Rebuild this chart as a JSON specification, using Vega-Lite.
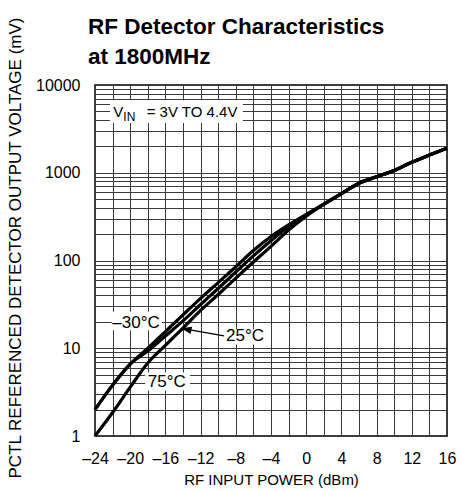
{
  "$schema": "https://vega.github.io/schema/vega-lite/v6.json",
  "width": 352,
  "height": 351,
  "autosize": "none",
  "padding": {"left": 95, "top": 85, "right": 16, "bottom": 55},
  "config": {
    "view": {"stroke": "black", "strokeWidth": 1.5},
    "font": "Liberation Sans",
    "text": {"font": "Liberation Sans", "color": "black"}
  },
  "title": {
    "text": ["RF Detector Characteristics", "at 1800MHz"],
    "anchor": "start",
    "frame": "group",
    "dx": -7,
    "offset": -75,
    "baseline": "bottom",
    "lineHeight": 30,
    "fontSize": 22.5,
    "font": "Liberation Sans",
    "fontWeight": "bold",
    "color": "black"
  },
  "resolve": {"axis": {"x": "independent"}},
  "datasets": {
    "curves": [
      {"p": -24, "v": 2.0, "t": "-30C"}, {"p": -22, "v": 3.8, "t": "-30C"}, {"p": -20, "v": 6.6, "t": "-30C"},
      {"p": -18, "v": 10, "t": "-30C"}, {"p": -16, "v": 15.5, "t": "-30C"}, {"p": -14, "v": 24, "t": "-30C"},
      {"p": -12, "v": 37, "t": "-30C"}, {"p": -10, "v": 56, "t": "-30C"}, {"p": -8, "v": 85, "t": "-30C"},
      {"p": -6, "v": 130, "t": "-30C"}, {"p": -4, "v": 188, "t": "-30C"}, {"p": -2, "v": 255, "t": "-30C"},
      {"p": 0, "v": 335, "t": "-30C"}, {"p": 2, "v": 440, "t": "-30C"}, {"p": 4, "v": 580, "t": "-30C"},
      {"p": 6, "v": 760, "t": "-30C"}, {"p": 8, "v": 900, "t": "-30C"}, {"p": 10, "v": 1060, "t": "-30C"},
      {"p": 12, "v": 1320, "t": "-30C"}, {"p": 14, "v": 1590, "t": "-30C"}, {"p": 16, "v": 1900, "t": "-30C"},
      {"p": -24, "v": 2.0, "t": "25C"}, {"p": -22, "v": 3.8, "t": "25C"}, {"p": -20, "v": 6.6, "t": "25C"},
      {"p": -18, "v": 9.3, "t": "25C"}, {"p": -16, "v": 13.8, "t": "25C"}, {"p": -14, "v": 20.5, "t": "25C"},
      {"p": -12, "v": 31.5, "t": "25C"}, {"p": -10, "v": 48, "t": "25C"}, {"p": -8, "v": 74, "t": "25C"},
      {"p": -6, "v": 113, "t": "25C"}, {"p": -4, "v": 168, "t": "25C"}, {"p": -2, "v": 245, "t": "25C"},
      {"p": 0, "v": 330, "t": "25C"}, {"p": 2, "v": 440, "t": "25C"}, {"p": 4, "v": 580, "t": "25C"},
      {"p": 6, "v": 760, "t": "25C"}, {"p": 8, "v": 900, "t": "25C"}, {"p": 10, "v": 1060, "t": "25C"},
      {"p": 12, "v": 1320, "t": "25C"}, {"p": 14, "v": 1590, "t": "25C"}, {"p": 16, "v": 1900, "t": "25C"},
      {"p": -24, "v": 1.0, "t": "75C"}, {"p": -22, "v": 1.85, "t": "75C"}, {"p": -20, "v": 3.6, "t": "75C"},
      {"p": -18, "v": 6.8, "t": "75C"}, {"p": -16, "v": 10.8, "t": "75C"}, {"p": -14, "v": 17, "t": "75C"},
      {"p": -12, "v": 27, "t": "75C"}, {"p": -10, "v": 41, "t": "75C"}, {"p": -8, "v": 63, "t": "75C"},
      {"p": -6, "v": 96, "t": "75C"}, {"p": -4, "v": 145, "t": "75C"}, {"p": -2, "v": 222, "t": "75C"},
      {"p": 0, "v": 320, "t": "75C"}, {"p": 2, "v": 435, "t": "75C"}, {"p": 4, "v": 575, "t": "75C"},
      {"p": 6, "v": 760, "t": "75C"}, {"p": 8, "v": 900, "t": "75C"}, {"p": 10, "v": 1060, "t": "75C"},
      {"p": 12, "v": 1320, "t": "75C"}, {"p": 14, "v": 1590, "t": "75C"}, {"p": 16, "v": 1900, "t": "75C"}
    ],
    "boxes": [
      {"x1": -22.3, "x2": -7.2, "y1": 3700, "y2": 6700},
      {"x1": -22.1, "x2": -16.4, "y1": 16, "y2": 26},
      {"x1": -9.6, "x2": -4.3, "y1": 11, "y2": 16.5},
      {"x1": -18.3, "x2": -13.2, "y1": 3.3, "y2": 5.3}
    ],
    "arrow": [
      {"p": -9.34, "v": 13.8},
      {"p": -14.0, "v": 16.7}
    ],
    "arrowhead": [
      {"p": -14.23, "v": 16.9}
    ],
    "labels": [
      {"p": -19.34, "v": 19.5, "t": "–30°C"},
      {"p": -6.95, "v": 13.7, "t": "25°C"},
      {"p": -15.85, "v": 4.16, "t": "75°C"}
    ],
    "vin": [
      {"p": -21.92, "v": 4354, "t": "V"},
      {"p": -18.13, "v": 4354, "t": "= 3V TO 4.4V"}
    ],
    "vinsub": [
      {"p": -20.78, "v": 3918, "t": "IN"}
    ]
  },
  "layer": [
    {
      "data": {"name": "boxes"},
      "mark": {"type": "rect", "fill": "white"},
      "encoding": {
        "x": {
          "field": "x1", "type": "quantitative",
          "scale": {"domain": [-24, 16], "nice": false, "zero": false},
          "axis": {
            "title": "RF INPUT POWER (dBm)",
            "orient": "bottom",
            "values": [-24, -20, -16, -12, -8, -4, 0, 4, 8, 12, 16],
            "labelExpr": "datum.value < 0 ? '–' + abs(datum.value) : '' + datum.value",
            "grid": true,
            "gridColor": "#3a3a3a",
            "gridWidth": 1,
            "gridOpacity": 1,
            "ticks": false,
            "domain": false,
            "labelFontSize": 16,
            "labelColor": "black",
            "labelPadding": 14,
            "labelFlush": false,
            "labelOverlap": false,
            "titleFontSize": 15,
            "titleFontWeight": "normal",
            "titleColor": "black",
            "titlePadding": 6
          }
        },
        "x2": {"field": "x2"},
        "y": {
          "field": "y1", "type": "quantitative",
          "scale": {"type": "log", "domain": [1, 10000], "nice": false},
          "axis": {
            "title": "PCTL REFERENCED DETECTOR OUTPUT VOLTAGE (mV)",
            "values": [1, 2, 3, 4, 5, 6, 7, 8, 9, 10, 20, 30, 40, 50, 60, 70, 80, 90, 100, 200, 300, 400, 500, 600, 700, 800, 900, 1000, 2000, 3000, 4000, 5000, 6000, 7000, 8000, 9000, 10000],
            "format": "d",
            "labelExpr": "datum.value == 1 || datum.value == 10 || datum.value == 100 || datum.value == 1000 || datum.value == 10000 ? datum.label : ''",
            "grid": true,
            "gridColor": "#3a3a3a",
            "gridWidth": 1,
            "gridOpacity": 1,
            "ticks": false,
            "domain": false,
            "labelFontSize": 16,
            "labelColor": "black",
            "labelPadding": 15,
            "labelFlush": false,
            "labelOverlap": false,
            "titleFontSize": 17,
            "titleFontWeight": "normal",
            "titleColor": "black",
            "titleX": -80,
            "titleY": 162.5,
            "titleAlign": "center",
            "titleBaseline": "middle",
            "titleAngle": -90
          }
        },
        "y2": {"field": "y2"}
      }
    },
    {
      "data": {"name": "curves"},
      "mark": {"type": "line", "color": "black", "strokeWidth": 3.2, "strokeJoin": "round", "interpolate": "monotone"},
      "encoding": {
        "x": {
          "field": "p", "type": "quantitative",
          "axis": {
            "orient": "top",
            "title": null,
            "values": [-22, -18, -14, -10, -6, -2, 2, 6, 10, 14],
            "labels": false,
            "ticks": false,
            "domain": false,
            "grid": true,
            "gridColor": "#3a3a3a",
            "gridWidth": 1,
            "gridOpacity": 1
          }
        },
        "y": {"field": "v", "type": "quantitative"},
        "detail": {"field": "t"}
      }
    },
    {
      "data": {"name": "arrow"},
      "mark": {"type": "line", "color": "black", "strokeWidth": 1.3},
      "encoding": {
        "x": {"field": "p", "type": "quantitative", "axis": null},
        "y": {"field": "v", "type": "quantitative"}
      }
    },
    {
      "data": {"name": "arrowhead"},
      "mark": {"type": "point", "shape": "M0,0L-0.35,1L0.35,1Z", "filled": true, "color": "black", "opacity": 1, "size": 450, "angle": 281},
      "encoding": {
        "x": {"field": "p", "type": "quantitative", "axis": null},
        "y": {"field": "v", "type": "quantitative"}
      }
    },
    {
      "data": {"name": "labels"},
      "mark": {"type": "text", "fontSize": 17, "align": "center", "baseline": "middle"},
      "encoding": {
        "x": {"field": "p", "type": "quantitative", "axis": null},
        "y": {"field": "v", "type": "quantitative"},
        "text": {"field": "t"}
      }
    },
    {
      "data": {"name": "vin"},
      "mark": {"type": "text", "fontSize": 15, "align": "left", "baseline": "alphabetic"},
      "encoding": {
        "x": {"field": "p", "type": "quantitative", "axis": null},
        "y": {"field": "v", "type": "quantitative"},
        "text": {"field": "t"}
      }
    },
    {
      "data": {"name": "vinsub"},
      "mark": {"type": "text", "fontSize": 12, "align": "left", "baseline": "alphabetic"},
      "encoding": {
        "x": {"field": "p", "type": "quantitative", "axis": null},
        "y": {"field": "v", "type": "quantitative"},
        "text": {"field": "t"}
      }
    }
  ]
}
